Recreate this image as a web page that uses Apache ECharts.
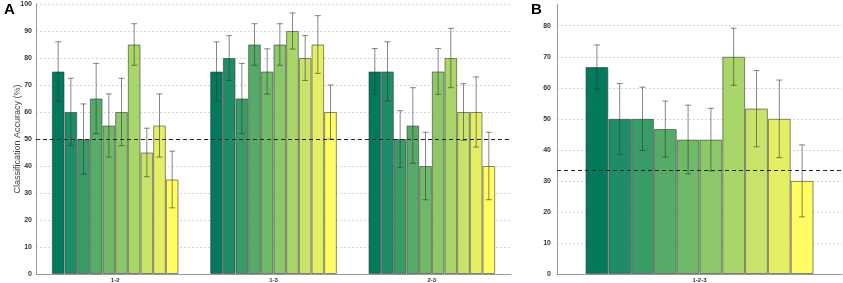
<!DOCTYPE html>
<html>
<head>
<meta charset="utf-8">
<script src="https://cdn.jsdelivr.net/npm/echarts@6/dist/echarts.min.js"></script>
<style>
  html, body { margin: 0; padding: 0; background: #fff; }
  #chart { width: 843px; height: 283px; }
</style>
</head>
<body>
<div id="chart"></div>
<script>
// panel A: pairwise classification
var categoriesA = ['1-2', '1-3', '2-3'];
var meansA = [
  [75, 60, 50, 65, 55, 60, 85, 45, 55, 35],
  [75, 80, 65, 85, 75, 85, 90, 80, 85, 60],
  [75, 75, 50, 55, 40, 75, 80, 60, 60, 40]
];
var errorsA = [
  [11, 12.5, 13, 13, 11.7, 12.5, 7.7, 9, 11.7, 10.5],
  [11, 8.3, 13, 7.7, 8.4, 7.7, 6.7, 8.3, 10.7, 10],
  [8.5, 11, 10.5, 14, 12.5, 8.5, 11, 10.5, 13, 12.5]
];
var chanceA = 50;

// panel B: three-way classification
var categoriesB = ['1-2-3'];
var meansB = [[66.7, 50, 50, 46.7, 43.3, 43.3, 70, 53.3, 50, 30]];
var errorsB = [[7.1, 11.4, 10.2, 9, 11.1, 10.1, 9.2, 12.3, 12.5, 11.6]];
var chanceB = 33.3;

var colors = ['#017a5c', '#1f8c68', '#399c66', '#55ab67', '#70b967', '#8cc769',
  '#a9d668', '#c8e36a', '#e4ef65', '#fffd62'];

var nBars = colors.length;
var gapRatio = 0.2;

function errorRender(params, api) {
  var cat = api.value(0);
  var idx = api.value(1);
  var lo = api.coord([cat, api.value(2)]);
  var hi = api.coord([cat, api.value(3)]);
  var band = api.size([1, 0])[0];
  var group = band * (1 - gapRatio);
  var bw = group / nBars;
  var x = lo[0] - group / 2 + (idx + 0.5) * bw;
  var cap = 3;
  var style = { stroke: 'rgba(55,55,55,0.6)', lineWidth: 1 };
  return {
    type: 'group',
    children: [
      { type: 'line', shape: { x1: x, y1: lo[1], x2: x, y2: hi[1] }, style: style },
      { type: 'line', shape: { x1: x - cap, y1: hi[1], x2: x + cap, y2: hi[1] }, style: style },
      { type: 'line', shape: { x1: x - cap, y1: lo[1], x2: x + cap, y2: lo[1] }, style: style }
    ]
  };
}

function buildSeries(means, errors, axisIndex, chance) {
  var out = [];
  for (var i = 0; i < nBars; i++) {
    var s = {
      type: 'bar',
      xAxisIndex: axisIndex,
      yAxisIndex: axisIndex,
      data: means.map(function (row) { return row[i]; }),
      barGap: '0%',
      barCategoryGap: gapRatio * 100 + '%',
      itemStyle: {
        color: colors[i],
        borderColor: 'rgba(60,60,60,0.6)',
        borderWidth: 1
      },
      z: 2
    };
    if (i === 0) {
      s.markLine = {
        symbol: 'none',
        silent: true,
        label: { show: false },
        lineStyle: { type: [4, 3], color: '#222', width: 1.2 },
        data: [{ yAxis: chance }],
        z: 5
      };
    }
    out.push(s);
  }
  var errData = [];
  means.forEach(function (row, c) {
    row.forEach(function (m, i) {
      errData.push([c, i, m - errors[c][i], m + errors[c][i]]);
    });
  });
  out.push({
    type: 'custom',
    xAxisIndex: axisIndex,
    yAxisIndex: axisIndex,
    renderItem: errorRender,
    data: errData,
    encode: { x: 0, y: [2, 3] },
    z: 4
  });
  return out;
}

var labelStyle = { fontSize: 7, fontWeight: 'bold', color: '#333', fontFamily: 'Liberation Sans' };
var gridLine = { show: true, lineStyle: { color: '#d6d6d6', type: [2, 2], width: 1 } };
var letterStyle = { fontSize: 15, fontWeight: 'bold', color: '#000', fontFamily: 'Liberation Sans' };

var option = {
  animation: false,
  backgroundColor: '#fff',
  title: [
    { text: 'A', left: 4, top: 2, padding: 0, textStyle: letterStyle },
    { text: 'B', left: 531, top: 2, padding: 0, textStyle: letterStyle }
  ],
  grid: [
    { left: 36, top: 4, width: 475, bottom: 9, outerBoundsMode: 'none' },
    { left: 557, top: 4, right: 1, bottom: 9, outerBoundsMode: 'none' }
  ],
  xAxis: [
    {
      type: 'category', gridIndex: 0, data: categoriesA,
      axisLine: { lineStyle: { color: '#999' } },
      axisTick: { alignWithLabel: true, length: 2, lineStyle: { color: '#999' } },
      axisLabel: { fontSize: 6, fontWeight: 'bold', color: '#333', margin: 3, fontFamily: 'Liberation Sans' }
    },
    {
      type: 'category', gridIndex: 1, data: categoriesB,
      axisLine: { lineStyle: { color: '#999' } },
      axisTick: { alignWithLabel: true, length: 2, lineStyle: { color: '#999' } },
      axisLabel: { fontSize: 6, fontWeight: 'bold', color: '#333', margin: 3, fontFamily: 'Liberation Sans' }
    }
  ],
  yAxis: [
    {
      type: 'value', gridIndex: 0, min: 0, max: 100, interval: 10,
      name: 'Classification Accuracy (%)', nameLocation: 'middle', nameGap: 14,
      nameMoveOverlap: false,
      nameTextStyle: { fontSize: 9, color: '#444', fontFamily: 'Liberation Sans' },
      axisLine: { show: true, lineStyle: { color: '#999' } },
      axisTick: { show: false },
      axisLabel: Object.assign({ margin: 4 }, labelStyle),
      splitLine: gridLine
    },
    {
      type: 'value', gridIndex: 1, min: 0, max: 87, interval: 10,
      axisLine: { show: true, lineStyle: { color: '#999' } },
      axisTick: { show: false },
      axisLabel: Object.assign({
        margin: 6,
        formatter: function (v) { return v % 10 === 0 ? String(v) : ''; }
      }, labelStyle),
      splitLine: {
        show: true,
        lineStyle: {
          color: ['#d6d6d6', '#d6d6d6', '#d6d6d6', '#d6d6d6', '#d6d6d6', '#d6d6d6',
            '#d6d6d6', '#d6d6d6', '#d6d6d6', 'rgba(0,0,0,0)'],
          type: [2, 2], width: 1
        }
      }
    }
  ],
  series: buildSeries(meansA, errorsA, 0, chanceA).concat(buildSeries(meansB, errorsB, 1, chanceB))
};

var chart = echarts.init(document.getElementById('chart'));
chart.setOption(option);
</script>
</body>
</html>
